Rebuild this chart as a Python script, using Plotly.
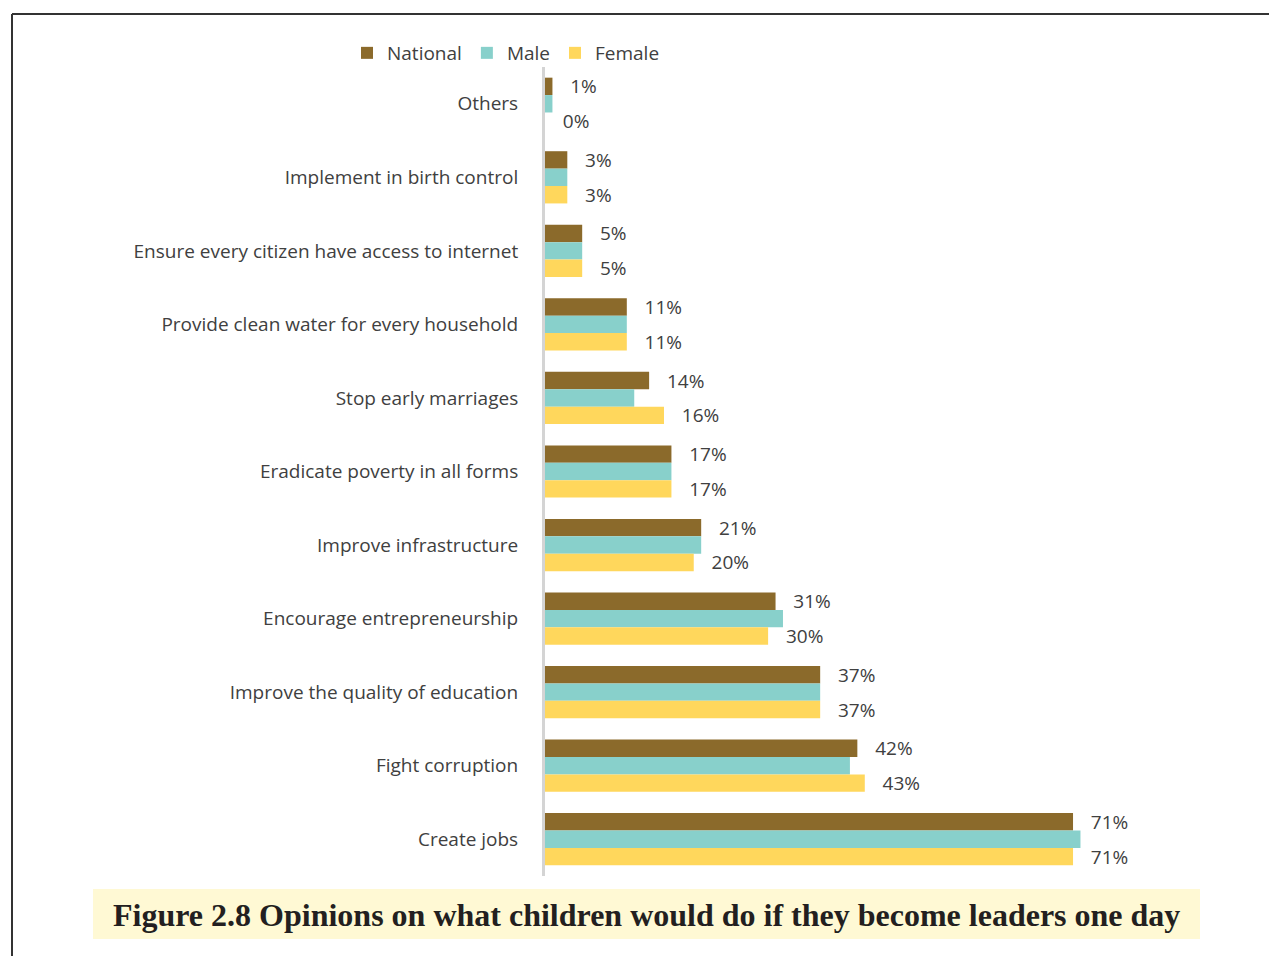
import plotly.graph_objects as go

# Survey categories, top to bottom
categories = [
    "Others",
    "Implement in birth control",
    "Ensure every citizen have access to internet",
    "Provide clean water for every household",
    "Stop early marriages",
    "Eradicate poverty in all forms",
    "Improve infrastructure",
    "Encourage entrepreneurship",
    "Improve the quality of education",
    "Fight corruption",
    "Create jobs",
]

# Share of respondents (%)
national = [1, 3, 5, 11, 14, 17, 21, 31, 37, 42, 71]
male = [1, 3, 5, 11, 12, 17, 21, 32, 37, 41, 72]
female = [0, 3, 5, 11, 16, 17, 20, 30, 37, 43, 71]

W, H = 1269, 956
PLOT_L, PLOT_R, PLOT_T, PLOT_B = 545, 1200, 67, 876

label_font = dict(family="Open Sans", size=19, color="#404040")
pad = "\u00a0\u00a0\u00a0"

fig = go.Figure()
fig.add_trace(go.Bar(
    name="National", y=categories, x=national, orientation="h",
    marker=dict(color="#8B6A2B", line=dict(width=0)),
    texttemplate=pad + "%{x}%", textposition="outside",
    textfont=label_font, cliponaxis=False, constraintext="none",
))
fig.add_trace(go.Bar(
    name="Male", y=categories, x=male, orientation="h",
    marker=dict(color="#88D0CB", line=dict(width=0)),
))
fig.add_trace(go.Bar(
    name="Female", y=categories, x=female, orientation="h",
    marker=dict(color="#FFD75C", line=dict(width=0)),
    texttemplate=pad + "%{x}%", textposition="outside",
    textfont=label_font, cliponaxis=False, constraintext="none",
))

fig.update_layout(
    width=W, height=H,
    margin=dict(l=0, r=0, t=0, b=0),
    paper_bgcolor="white", plot_bgcolor="white",
    barmode="group", bargap=0.29, bargroupgap=0,
    font=label_font,
    showlegend=True,
    legend=dict(
        orientation="h", x=506 / W, y=1 - 53 / H,
        xanchor="center", yanchor="middle",
        font=dict(family="Open Sans", size=19, color="#404040"),
        itemwidth=30, traceorder="normal",
        bgcolor="rgba(0,0,0,0)",
    ),
    xaxis=dict(
        domain=[PLOT_L / W, PLOT_R / W],
        range=[0, (PLOT_R - PLOT_L) / 7.437],
        visible=False, fixedrange=True,
    ),
    yaxis=dict(
        domain=[1 - PLOT_B / H, 1 - PLOT_T / H],
        autorange="reversed", type="category",
        showline=True, linecolor="#D4D4D4", linewidth=3,
        showgrid=False, ticks="", ticklabelstandoff=20,
        tickfont=dict(family="Open Sans", size=19, color="#404040"),
        automargin=False,
    ),
    shapes=[
        # caption background
        dict(type="rect", xref="paper", yref="paper",
             x0=93 / W, x1=1200 / W, y0=1 - 939 / H, y1=1 - 889 / H,
             fillcolor="#FFF9D4", line=dict(width=0), layer="below"),
        # page frame
        dict(type="line", xref="paper", yref="paper",
             x0=12 / W, x1=1, y0=1 - 14 / H, y1=1 - 14 / H,
             line=dict(color="#333333", width=2)),
        dict(type="line", xref="paper", yref="paper",
             x0=12 / W, x1=12 / W, y0=0, y1=1 - 14 / H,
             line=dict(color="#333333", width=2)),
    ],
    annotations=[
        dict(text="<b>Figure 2.8 Opinions on what children would do if they become leaders one day</b>",
             xref="paper", yref="paper", x=646 / W, y=1 - 915 / H,
             xanchor="center", yanchor="middle", showarrow=False,
             font=dict(family="Liberation Serif", size=32, color="#231F20")),
    ],
)

fig.write_html("out.html")
